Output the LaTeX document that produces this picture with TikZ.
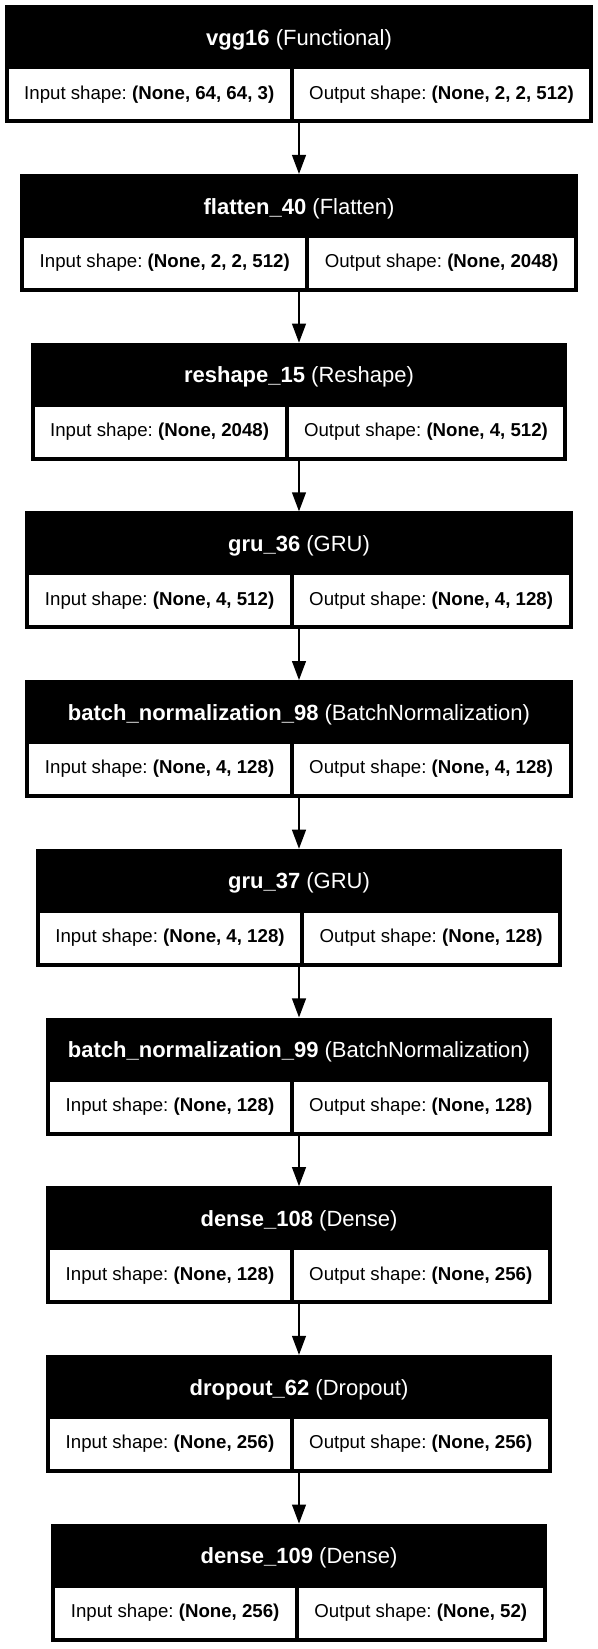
\documentclass[tikz,border=0pt]{standalone}
\usepackage{fontspec}
\setmainfont{Liberation Sans}
\usetikzlibrary{arrows.meta}
\frenchspacing
\newlength\wIn \newlength\wOut \newlength\wTot
\newcommand\cellfont{\fontsize{14}{16}\selectfont\frenchspacing}
\newcommand\headfont{\fontsize{16.5}{19}\selectfont\frenchspacing}
\tikzset{
  layerframe/.style={rectangle, fill=black, draw=none, inner sep=0pt, outer sep=0pt, minimum height=88.5pt},
  headtext/.style={text=white, font=\headfont, inner sep=0pt, outer sep=0pt},
  cellbox/.style={rectangle, fill=white, draw=none, inner sep=0pt, outer sep=0pt, minimum height=37.5pt, font=\cellfont, text=black},
  arr/.style={line width=1.5pt, -{Triangle[width=10.3pt,length=14.3pt]}}
}
\newcommand\layer[5]{%
  \pgfinterruptpicture
    \settowidth\wIn{\cellfont #4}\global\wIn=\wIn
    \settowidth\wOut{\cellfont #5}\global\wOut=\wOut
  \endpgfinterruptpicture
  \addtolength\wIn{23.25pt}%
  \addtolength\wOut{23.25pt}%
  \setlength\wTot{\dimexpr\wIn+\wOut+9pt\relax}%
  \node[layerframe, minimum width=\wTot, anchor=north] (#1) at (299,#2) {};
  \node[headtext] (#1h) at ([yshift=-25.8pt]#1.north) {#3};
  \node[cellbox, minimum width=\wIn, anchor=south west] (#1i) at ([xshift=3pt,yshift=3pt]#1.south west) {#4};
  \node[cellbox, minimum width=\wOut, anchor=south east] (#1o) at ([xshift=-3pt,yshift=3pt]#1.south east) {#5};
}
\begin{document}
\begin{tikzpicture}[x=0.75pt, y=-0.75pt]
\useasboundingbox (0,0) rectangle (598,1649);
\fill[white] (0,0) rectangle (598,1649);
\layer{l1}{5.3}{\textbf{vgg16} (Functional)}{Input shape: \textbf{(None, 64, 64, 3)}}{Output shape: \textbf{(None, 2, 2, 512)}}
\layer{l2}{174}{\textbf{flatten\_40} (Flatten)}{Input shape: \textbf{(None, 2, 2, 512)}}{Output shape: \textbf{(None, 2048)}}
\layer{l3}{342.7}{\textbf{reshape\_15} (Reshape)}{Input shape: \textbf{(None, 2048)}}{Output shape: \textbf{(None, 4, 512)}}
\layer{l4}{511.4}{\textbf{gru\_36} (GRU)}{Input shape: \textbf{(None, 4, 512)}}{Output shape: \textbf{(None, 4, 128)}}
\layer{l5}{680.1}{\textbf{batch\_normalization\_98} (BatchNormalization)}{Input shape: \textbf{(None, 4, 128)}}{Output shape: \textbf{(None, 4, 128)}}
\layer{l6}{848.8}{\textbf{gru\_37} (GRU)}{Input shape: \textbf{(None, 4, 128)}}{Output shape: \textbf{(None, 128)}}
\layer{l7}{1017.5}{\textbf{batch\_normalization\_99} (BatchNormalization)}{Input shape: \textbf{(None, 128)}}{Output shape: \textbf{(None, 128)}}
\layer{l8}{1186.2}{\textbf{dense\_108} (Dense)}{Input shape: \textbf{(None, 128)}}{Output shape: \textbf{(None, 256)}}
\layer{l9}{1354.9}{\textbf{dropout\_62} (Dropout)}{Input shape: \textbf{(None, 256)}}{Output shape: \textbf{(None, 256)}}
\layer{l10}{1523.6}{\textbf{dense\_109} (Dense)}{Input shape: \textbf{(None, 256)}}{Output shape: \textbf{(None, 52)}}
\draw[arr] (l1.south) -- (l2.north);
\draw[arr] (l2.south) -- (l3.north);
\draw[arr] (l3.south) -- (l4.north);
\draw[arr] (l4.south) -- (l5.north);
\draw[arr] (l5.south) -- (l6.north);
\draw[arr] (l6.south) -- (l7.north);
\draw[arr] (l7.south) -- (l8.north);
\draw[arr] (l8.south) -- (l9.north);
\draw[arr] (l9.south) -- (l10.north);
\end{tikzpicture}
\end{document}
